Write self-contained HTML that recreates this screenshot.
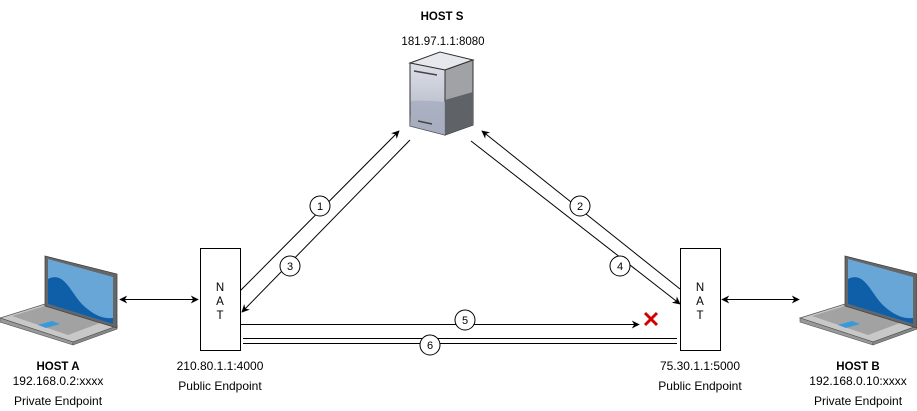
<!DOCTYPE html>
<html><head><meta charset="utf-8"><style>
html,body{margin:0;padding:0;background:#fff;}
svg{display:block;font-family:"Liberation Sans",Arial,sans-serif;}
</style></head><body>
<svg width="917" height="411" viewBox="0 0 917 411" xmlns="http://www.w3.org/2000/svg">
<defs>
<marker id="ah" viewBox="0 0 10 10" refX="9" refY="5" markerWidth="8" markerHeight="8" orient="auto-start-reverse" markerUnits="userSpaceOnUse">
<path d="M0,0 L10,5 L0,10 L3,5 z" fill="#000"/></marker>
<linearGradient id="sf" x1="0" y1="0" x2="0" y2="1"><stop offset="0" stop-color="#dde0e8"/><stop offset="1" stop-color="#a8aebd"/></linearGradient>
<g id="laptop">
<polygon points="0,318 45,304 117,326 73,342" fill="#c8c8c8" stroke="#555" stroke-width="0.8"/>
<polygon points="0,318 73,342 73,345 0,322" fill="#999" stroke="#555" stroke-width="0.6"/>
<polygon points="73,342 117,326 117,329 73,345" fill="#888" stroke="#555" stroke-width="0.6"/>
<polygon points="12,316 45,306 100,323 68,335" fill="#888" opacity="0.6"/>
<polygon points="38,325 52,321 60,324 46,328" fill="#3a9ad9"/>
<polygon points="45,256 117,274 117,328 45,306" fill="#666" stroke="#444" stroke-width="0.8"/>
<polygon points="48,259 113,277 113,324 48,304" fill="#68a6d8"/>
<path d="M48,279 C65,270 72,296 84,306 C95,316 104,319 113,318 L113,324 L48,304 Z" fill="#0f5fa8"/>
</g>
</defs>

<text x="442" y="20" font-size="11.5" font-weight="bold" text-anchor="middle">HOST S</text>
<text x="443" y="45" font-size="11.5" text-anchor="middle">181.97.1.1:8080</text>

<!-- server -->
<polygon points="410,63 440,52 473,60 445,70" fill="#e6e8ee" stroke="#333" stroke-width="1"/>
<polygon points="410,63 445,70 445,135 410,126" fill="url(#sf)" stroke="#333" stroke-width="1"/>
<polygon points="445,70 473,60 473,125 445,135" fill="#a0a2a6" stroke="#333" stroke-width="1"/>
<polygon points="445,100 473,92 473,125 445,135" fill="#5f6368"/>
<path d="M411,101 Q420,100 445,102 L445,135 L410,126 Z" fill="#a6adbf" opacity="0.8"/>
<line x1="414" y1="71" x2="437" y2="75" stroke="#444" stroke-width="1.5"/>
<line x1="418" y1="121" x2="432" y2="124" stroke="#444" stroke-width="1.5"/>

<g stroke="#000" stroke-width="1" fill="none">
<line x1="240" y1="291" x2="399" y2="131" marker-end="url(#ah)"/>
<line x1="410" y1="140" x2="242" y2="312" marker-end="url(#ah)"/>
<line x1="680" y1="289" x2="482" y2="131" marker-end="url(#ah)"/>
<line x1="471" y1="141" x2="680" y2="304" marker-end="url(#ah)"/>
<line x1="240" y1="324.5" x2="639" y2="324.5" marker-end="url(#ah)"/>
<line x1="243" y1="338.5" x2="677" y2="338.5"/>
<line x1="243" y1="343.5" x2="677" y2="343.5"/>
<line x1="120" y1="299.5" x2="198" y2="299.5" marker-start="url(#ah)" marker-end="url(#ah)"/>
<line x1="722" y1="299.5" x2="799" y2="299.5" marker-start="url(#ah)" marker-end="url(#ah)"/>
</g>

<g fill="#fff" stroke="#000" stroke-width="1">
<circle cx="320" cy="206" r="10"/><circle cx="290" cy="266" r="10"/>
<circle cx="580" cy="206" r="10"/><circle cx="620" cy="266" r="10"/>
<circle cx="465" cy="320" r="10"/><circle cx="430" cy="345" r="10"/>
</g>
<g font-size="11" text-anchor="middle">
<text x="320" y="210">1</text><text x="290" y="270">3</text>
<text x="580" y="210">2</text><text x="620" y="270">4</text>
<text x="465" y="324">5</text><text x="430" y="349">6</text>
</g>

<g stroke="#d40000" stroke-width="3">
<line x1="645" y1="313" x2="657" y2="325"/><line x1="657" y1="313" x2="645" y2="325"/>
</g>

<rect x="200.5" y="248.5" width="40" height="102" fill="#fff" stroke="#000"/>
<rect x="680.5" y="248.5" width="40" height="102" fill="#fff" stroke="#000"/>
<g font-size="11.5" text-anchor="middle">
<text x="220" y="291">N</text><text x="220" y="305">A</text><text x="220" y="319">T</text>
<text x="700" y="291">N</text><text x="700" y="305">A</text><text x="700" y="319">T</text>
</g>

<use href="#laptop"/>
<use href="#laptop" transform="translate(800,0)"/>

<g font-size="12" text-anchor="middle">
<text x="58" y="370" font-weight="bold" font-size="11.5">HOST A</text>
<text x="58" y="385">192.168.0.2:xxxx</text>
<text x="58" y="405">Private Endpoint</text>
<text x="220" y="370">210.80.1.1:4000</text>
<text x="220" y="390">Public Endpoint</text>
<text x="700" y="370">75.30.1.1:5000</text>
<text x="700" y="390">Public Endpoint</text>
<text x="858" y="370" font-weight="bold" font-size="11.5">HOST B</text>
<text x="858" y="385">192.168.0.10:xxxx</text>
<text x="858" y="405">Private Endpoint</text>
</g>
</svg>
</body></html>
